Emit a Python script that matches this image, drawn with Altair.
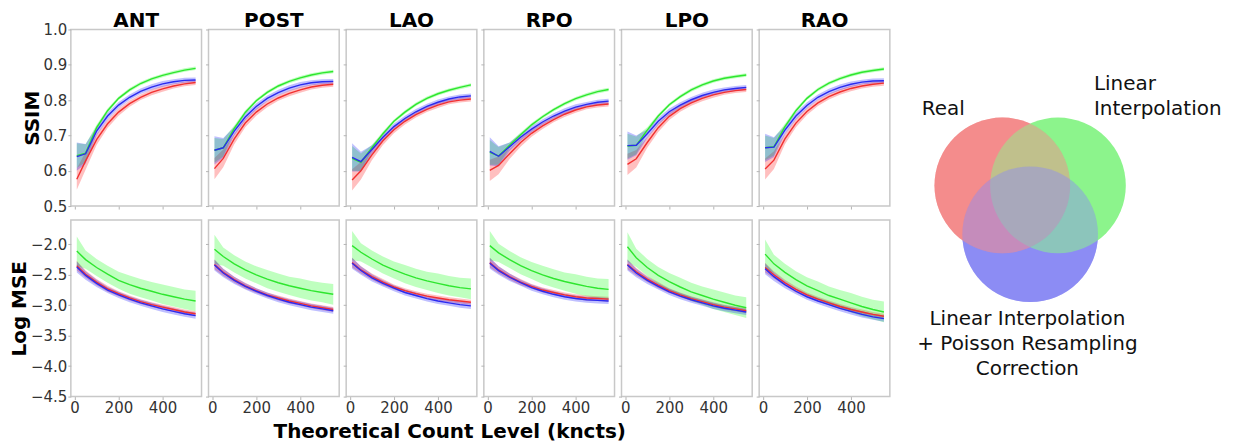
import altair as alt
import pandas as pd

# ---------------- data ----------------
views = ["ANT", "POST", "LAO", "RPO", "LPO", "RAO"]
methods = ["Real", "Linear Interpolation", "LI + Poisson Resampling Correction"]
count_levels = [10, 50, 100, 150, 200, 250, 300, 350, 400, 450, 500, 550]

ssim_real = {
    "ANT":  [0.576, 0.628, 0.688, 0.733, 0.766, 0.790, 0.808, 0.822, 0.832, 0.840, 0.846, 0.850],
    "POST": [0.606, 0.635, 0.690, 0.735, 0.766, 0.789, 0.806, 0.819, 0.829, 0.837, 0.842, 0.845],
    "LAO":  [0.574, 0.600, 0.645, 0.685, 0.716, 0.740, 0.759, 0.774, 0.786, 0.795, 0.800, 0.803],
    "RPO":  [0.601, 0.615, 0.648, 0.680, 0.706, 0.727, 0.745, 0.760, 0.772, 0.781, 0.786, 0.789],
    "LPO":  [0.618, 0.634, 0.680, 0.722, 0.754, 0.776, 0.792, 0.805, 0.815, 0.822, 0.827, 0.830],
    "RAO":  [0.605, 0.630, 0.690, 0.735, 0.768, 0.792, 0.810, 0.823, 0.833, 0.840, 0.845, 0.848],
}
ssim_li = {
    "ANT":  [0.643, 0.650, 0.722, 0.770, 0.805, 0.829, 0.847, 0.860, 0.870, 0.878, 0.885, 0.890],
    "POST": [0.658, 0.665, 0.720, 0.765, 0.798, 0.822, 0.840, 0.853, 0.863, 0.871, 0.877, 0.881],
    "LAO":  [0.635, 0.624, 0.665, 0.705, 0.740, 0.766, 0.788, 0.805, 0.818, 0.828, 0.836, 0.843],
    "RPO":  [0.652, 0.642, 0.672, 0.702, 0.730, 0.753, 0.773, 0.790, 0.804, 0.815, 0.824, 0.830],
    "LPO":  [0.670, 0.672, 0.715, 0.755, 0.787, 0.810, 0.829, 0.843, 0.854, 0.862, 0.867, 0.871],
    "RAO":  [0.665, 0.668, 0.725, 0.770, 0.805, 0.830, 0.848, 0.861, 0.871, 0.879, 0.884, 0.888],
}
ssim_lipr = {
    "ANT":  [0.640, 0.648, 0.712, 0.755, 0.786, 0.808, 0.825, 0.837, 0.846, 0.852, 0.856, 0.857],
    "POST": [0.658, 0.665, 0.712, 0.752, 0.782, 0.805, 0.821, 0.834, 0.843, 0.849, 0.852, 0.853],
    "LAO":  [0.638, 0.626, 0.660, 0.695, 0.725, 0.748, 0.767, 0.782, 0.794, 0.803, 0.809, 0.812],
    "RPO":  [0.655, 0.641, 0.668, 0.695, 0.718, 0.738, 0.755, 0.769, 0.780, 0.788, 0.794, 0.797],
    "LPO":  [0.671, 0.672, 0.705, 0.740, 0.767, 0.786, 0.801, 0.813, 0.822, 0.829, 0.833, 0.836],
    "RAO":  [0.665, 0.667, 0.715, 0.755, 0.785, 0.808, 0.824, 0.836, 0.845, 0.851, 0.854, 0.855],
}
mse_real = {
    "ANT":  [-2.35, -2.49, -2.62, -2.73, -2.81, -2.88, -2.94, -2.99, -3.03, -3.07, -3.11, -3.14],
    "POST": [-2.33, -2.46, -2.58, -2.68, -2.76, -2.83, -2.88, -2.93, -2.97, -3.01, -3.04, -3.07],
    "LAO":  [-2.30, -2.42, -2.53, -2.62, -2.70, -2.76, -2.81, -2.85, -2.88, -2.91, -2.93, -2.95],
    "RPO":  [-2.30, -2.42, -2.53, -2.62, -2.69, -2.75, -2.79, -2.83, -2.86, -2.88, -2.89, -2.90],
    "LPO":  [-2.33, -2.45, -2.57, -2.67, -2.76, -2.83, -2.89, -2.94, -2.99, -3.03, -3.06, -3.09],
    "RAO":  [-2.38, -2.50, -2.63, -2.74, -2.83, -2.90, -2.96, -3.02, -3.07, -3.11, -3.15, -3.18],
}
mse_li = {
    "ANT":  [-2.11, -2.25, -2.38, -2.49, -2.59, -2.66, -2.72, -2.77, -2.82, -2.86, -2.90, -2.93],
    "POST": [-2.08, -2.20, -2.32, -2.42, -2.50, -2.57, -2.63, -2.68, -2.72, -2.76, -2.79, -2.82],
    "LAO":  [-2.02, -2.13, -2.24, -2.34, -2.42, -2.49, -2.55, -2.60, -2.64, -2.68, -2.71, -2.73],
    "RPO":  [-2.02, -2.14, -2.25, -2.35, -2.43, -2.50, -2.56, -2.61, -2.65, -2.69, -2.72, -2.74],
    "LPO":  [-2.04, -2.22, -2.38, -2.51, -2.61, -2.70, -2.78, -2.84, -2.90, -2.95, -3.00, -3.04],
    "RAO":  [-2.16, -2.32, -2.46, -2.58, -2.68, -2.76, -2.84, -2.90, -2.96, -3.02, -3.07, -3.11],
}
mse_lipr = {
    "ANT":  [-2.37, -2.51, -2.64, -2.75, -2.83, -2.90, -2.96, -3.01, -3.06, -3.10, -3.14, -3.17],
    "POST": [-2.34, -2.47, -2.59, -2.69, -2.77, -2.84, -2.90, -2.95, -2.99, -3.03, -3.06, -3.09],
    "LAO":  [-2.31, -2.43, -2.55, -2.64, -2.72, -2.79, -2.84, -2.89, -2.93, -2.96, -2.99, -3.01],
    "RPO":  [-2.31, -2.43, -2.54, -2.63, -2.71, -2.77, -2.82, -2.86, -2.89, -2.91, -2.92, -2.93],
    "LPO":  [-2.34, -2.47, -2.59, -2.69, -2.78, -2.85, -2.91, -2.96, -3.01, -3.05, -3.08, -3.11],
    "RAO":  [-2.40, -2.53, -2.66, -2.77, -2.86, -2.93, -2.99, -3.05, -3.10, -3.15, -3.19, -3.22],
}
# spread (half-width of shaded band)
ssim_spread_real = [0.030, 0.025, 0.015, 0.012, 0.010, 0.009, 0.008, 0.008, 0.008, 0.007, 0.007, 0.007]
ssim_spread_li   = [0.035, 0.025, 0.008, 0.006, 0.005, 0.005, 0.005, 0.005, 0.005, 0.005, 0.005, 0.005]
ssim_spread_lipr = [0.040, 0.028, 0.012, 0.010, 0.009, 0.008, 0.008, 0.008, 0.008, 0.007, 0.007, 0.007]
mse_spread_real  = [0.08, 0.06, 0.05, 0.05, 0.04, 0.04, 0.04, 0.04, 0.04, 0.04, 0.04, 0.04]
mse_spread_li    = [0.24, 0.15, 0.14, 0.14, 0.14, 0.15, 0.15, 0.15, 0.16, 0.16, 0.16, 0.17]
mse_spread_lipr  = [0.09, 0.07, 0.06, 0.05, 0.05, 0.05, 0.05, 0.05, 0.05, 0.05, 0.05, 0.05]

venn_sets = ["Real", "Linear Interpolation", "Poisson"]
venn_cx = [-0.41, 0.41, 0.0]
venn_cy = [0.35, 0.35, -0.37]
venn_texts = ["Real", "Linear\nInterpolation", "Linear Interpolation\n+ Poisson Resampling\nCorrection"]
venn_tx = [-1.28, 0.94, -0.04]
venn_ty = [1.47, 1.84, -1.62]
venn_align = ["center", "left", "center"]

# ---------------- table ----------------
rows = []
tables = {
    "SSIM": [(ssim_real, ssim_spread_real), (ssim_li, ssim_spread_li), (ssim_lipr, ssim_spread_lipr)],
    "Log MSE": [(mse_real, mse_spread_real), (mse_li, mse_spread_li), (mse_lipr, mse_spread_lipr)],
}
for metric, series in tables.items():
    for method, (vals, spread) in zip(methods, series):
        for v in views:
            for x, y, s in zip(count_levels, vals[v], spread):
                rows.append({"view": v, "metric": metric, "method": method,
                             "x": x, "y": y, "lo": y - s, "hi": y + s})
df = pd.DataFrame(rows)

band_colors = ["#ff0000", "#00ff00", "#0000ff"]
line_colors = ["#f23030", "#2ee62e", "#2a2af0"]

y_setup = {
    "SSIM": dict(domain=[0.5, 1.0], ticks=[0.5, 0.6, 0.7, 0.8, 0.9, 1.0]),
    "Log MSE": dict(domain=[-4.5, -1.6], ticks=[-4.5, -4.0, -3.5, -3.0, -2.5, -2.0]),
}

PW, PH = 131, 177


def panel(view, metric, col, row):
    d = df[(df.view == view) & (df.metric == metric)]
    base = alt.Chart(d)
    xaxis = alt.Axis(values=[0, 200, 400], labels=(row == 1), ticks=True, tickSize=3,
                     tickColor="#b5b5b5", domain=False, grid=False, labelFontSize=15,
                     labelColor="#333333", labelPadding=1, title=None)
    yaxis = alt.Axis(values=y_setup[metric]["ticks"], labels=(col == 0), ticks=True, tickSize=3,
                     tickColor="#b5b5b5", domain=False, grid=False, labelFontSize=15,
                     labelColor="#333333", labelPadding=1, format=".1f",
                     title=metric if col == 0 else None, titleFontSize=20,
                     titleFontWeight="bold", titleColor="black", titlePadding=1)
    xs = alt.Scale(domain=[-17, 577], nice=False, zero=False)
    ys = alt.Scale(domain=y_setup[metric]["domain"], nice=False, zero=False)
    band = base.mark_area(opacity=0.25).encode(
        x=alt.X("x:Q", scale=xs, axis=xaxis),
        y=alt.Y("lo:Q", scale=ys, axis=yaxis),
        y2="hi:Q",
        color=alt.Color("method:N", scale=alt.Scale(domain=methods, range=band_colors), legend=None),
    )
    line = base.mark_line(strokeWidth=1.4).encode(
        x=alt.X("x:Q", scale=xs, axis=xaxis),
        y=alt.Y("y:Q", scale=ys, axis=yaxis),
        color=alt.Color("method:N", scale=alt.Scale(domain=methods, range=line_colors), legend=None),
    )
    ch = alt.layer(band, line).resolve_scale(color="independent").properties(width=PW, height=PH)
    if row == 0:
        # the first column's y labels reach above the plot, so its title needs a larger pull-down
        off = -9 if col == 0 else -2
        ch = ch.properties(title=alt.TitleParams(view, fontSize=20, fontWeight="bold",
                                                 color="black", offset=off))
    return ch


panels = []
for r, metric in enumerate(["SSIM", "Log MSE"]):
    for c, v in enumerate(views):
        panels.append(panel(v, metric, c, r))

grid = alt.concat(
    *panels, columns=6, spacing={"row": 14, "column": 7}, bounds="flush", align="all",
    title=alt.TitleParams("Theoretical Count Level (kncts)", orient="bottom", anchor="middle",
                          fontSize=20, fontWeight="bold", color="black", offset=6),
)

# ---------------- venn ----------------
venn_df = pd.DataFrame({"set": venn_sets, "cx": venn_cx, "cy": venn_cy})
txt_df = pd.DataFrame({"text": venn_texts, "tx": venn_tx, "ty": venn_ty, "align": venn_align})
venn_color = {"Real": "#f48c8c", "Linear Interpolation": "#8cf48c", "Poisson": "#8c8cf4"}
vxs = alt.Scale(domain=[-1.98, 3.02], nice=False, zero=False)
vys = alt.Scale(domain=[-3.53, 2.65], nice=False, zero=False)
CIRCLE_SIZE = 18496  # bounding-box area of a circle with a 68 px radius


def circ(name, opacity):
    return alt.Chart(venn_df).transform_filter(alt.datum.set == name).mark_circle(
        size=CIRCLE_SIZE, opacity=opacity, color=venn_color[name], strokeWidth=0
    ).encode(x=alt.X("cx:Q", scale=vxs, axis=None), y=alt.Y("cy:Q", scale=vys, axis=None))


def label(al):
    return alt.Chart(txt_df).transform_filter(alt.datum.align == al).mark_text(
        fontSize=20, lineBreak="\n", lineHeight=25, align=al, baseline="middle", color="#111111"
    ).encode(x=alt.X("tx:Q", scale=vxs, axis=None), y=alt.Y("ty:Q", scale=vys, axis=None),
             text="text:N")


venn = alt.layer(
    circ("Poisson", 1.0), circ("Real", 1.0), circ("Linear Interpolation", 1.0),
    circ("Real", 0.5), circ("Poisson", 0.45),
    label("center"), label("left"),
).properties(width=340, height=420, view=alt.ViewBackground(strokeOpacity=0))

chart = alt.hconcat(grid, venn, spacing=5).properties(
    padding={"left": 0, "top": 1, "right": 5, "bottom": 0}
).configure(font="DejaVu Sans").configure_view(stroke="#c8c8c8", strokeWidth=1.5)

chart.save("out.html", embed_options={"renderer": "svg", "actions": False})
